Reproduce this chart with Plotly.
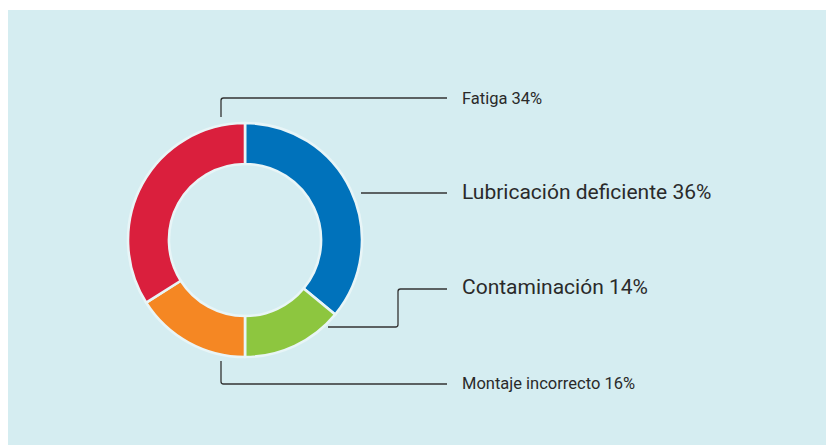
import plotly.graph_objects as go

# ---- data ----
labels = ["Lubricación deficiente", "Contaminación", "Montaje incorrecto", "Fatiga"]
values = [36, 14, 16, 34]
colors = ["#0072bb", "#8dc63f", "#f58723", "#da1f3d"]
label_texts = ["Lubricación deficiente 36%", "Contaminación 14%", "Montaje incorrecto 16%", "Fatiga 34%"]

W, H = 834, 446
OFF = 8  # page body margin
BG = "#d5edf1"
LINE = "#333333"
TXT = "#2a2a2a"

# donut geometry (page pixels)
cx, cy, R = 245, 240, 117


def px(x):
    return (x - OFF) / W


def py(y):
    return (H - (y - OFF)) / H


fig = go.Figure(go.Pie(
    labels=labels,
    values=values,
    sort=False,
    direction="clockwise",
    rotation=0,
    hole=0.65,
    marker=dict(colors=colors, line=dict(color="#e8f5f7", width=2.6)),
    textinfo="none",
    hoverinfo="none",
    showlegend=False,
    domain=dict(x=[px(cx - R), px(cx + R)], y=[py(cy + R), py(cy - R)]),
))


def path(points, r=2.5):
    """Polyline with small rounded corners, in paper coordinates."""
    d = "M {} {}".format(px(points[0][0]), py(points[0][1]))
    for i in range(1, len(points) - 1):
        (x0, y0), (x1, y1), (x2, y2) = points[i - 1], points[i], points[i + 1]

        def toward(a, b, dist):
            dx, dy = b[0] - a[0], b[1] - a[1]
            L = (dx * dx + dy * dy) ** 0.5
            return (a[0] + dx / L * dist, a[1] + dy / L * dist)
        p_in = toward((x1, y1), (x0, y0), r)
        p_out = toward((x1, y1), (x2, y2), r)
        d += " L {} {}".format(px(p_in[0]), py(p_in[1]))
        d += " Q {} {} {} {}".format(px(x1), py(y1), px(p_out[0]), py(p_out[1]))
    d += " L {} {}".format(px(points[-1][0]), py(points[-1][1]))
    return d


shapes = [
    dict(type="rect", xref="paper", yref="paper", x0=0, x1=1, y0=py(445), y1=py(10),
         fillcolor=BG, line=dict(width=0), layer="below"),
]

leaders = [
    [(361, 193), (447, 193)],
    [(328, 327), (398, 327), (398, 289), (447, 289)],
    [(221, 361), (221, 384), (447, 384)],
    [(221, 117), (221, 98), (447, 98)],
]
for pts in leaders:
    shapes.append(dict(type="path", xref="paper", yref="paper", path=path(pts),
                       line=dict(color=LINE, width=1.3), layer="above"))

text_y = [192, 287, 383, 98]
text_size = [21, 21, 16.5, 16.5]
annotations = []
for t, y, s in zip(label_texts, text_y, text_size):
    annotations.append(dict(text=t, x=px(460), y=py(y), xref="paper", yref="paper",
                            xanchor="left", yanchor="middle", showarrow=False,
                            font=dict(family="Roboto", size=s, color=TXT)))

fig.update_layout(
    width=W, height=H,
    margin=dict(l=0, r=0, t=0, b=0),
    paper_bgcolor="#ffffff",
    plot_bgcolor="#ffffff",
    shapes=shapes,
    annotations=annotations,
)

fig.write_html("out.html")
